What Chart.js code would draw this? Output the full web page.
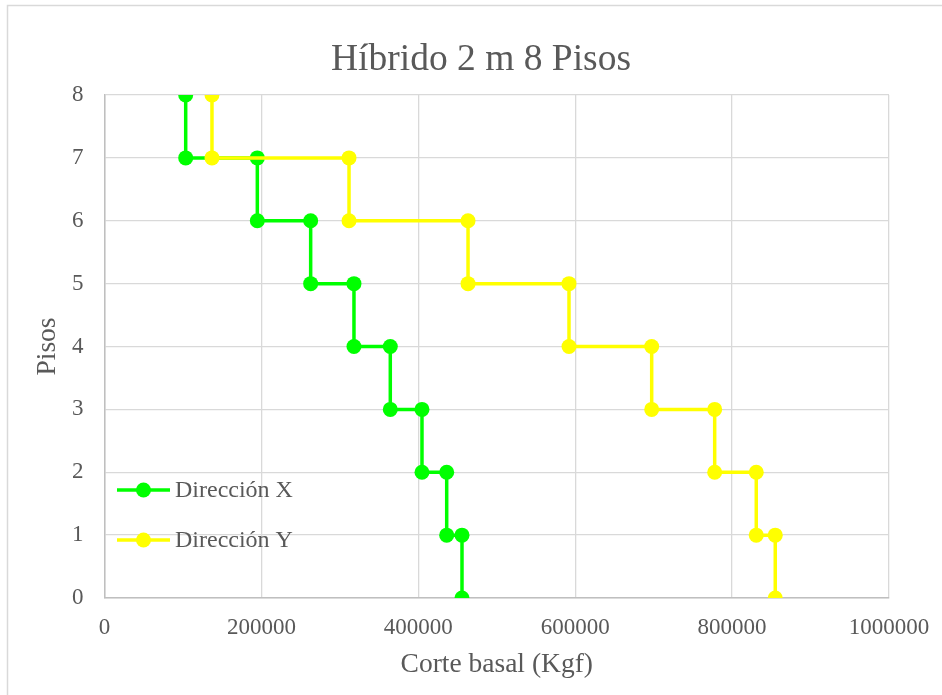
<!DOCTYPE html>
<html>
<head>
<meta charset="utf-8">
<script src="https://cdn.jsdelivr.net/npm/chart.js@4.4.1/dist/chart.umd.min.js"></script>
<style>
  html, body { margin: 0; padding: 0; background: #ffffff; }
  #wrap { width: 942px; height: 695px; position: relative; }
</style>
</head>
<body>
<div id="wrap"><canvas id="c" width="942" height="695"></canvas></div>
<script>
// Data
const chartTitle = "Híbrido 2 m 8 Pisos";
const xAxisTitle = "Corte basal (Kgf)";
const yAxisTitle = "Pisos";
const pisos = [8, 7, 6, 5, 4, 3, 2, 1];
const corteDireccionX = [103500, 194800, 262800, 318000, 364300, 404700, 436200, 455700];
const corteDireccionY = [137000, 311700, 463400, 592100, 697500, 777800, 830800, 855000];
const seriesLabels = ["Dirección X", "Dirección Y"];
const xTicks = [0, 200000, 400000, 600000, 800000, 1000000];
const yTicks = [0, 1, 2, 3, 4, 5, 6, 7, 8];

function stepPoints(values) {
  const pts = [];
  for (let i = 0; i < pisos.length; i++) {
    pts.push({ x: values[i], y: pisos[i] });
    pts.push({ x: values[i], y: pisos[i] - 1 });
  }
  return pts;
}

const TEXT = '#595959';
const FONT = '"Liberation Serif", "Times New Roman", serif';
const GREEN = '#00ff00';
const YELLOW = '#ffff00';

const frameTitleLegend = {
  id: 'frameTitleLegend',
  beforeDraw(chart) {
    const ctx = chart.ctx;
    ctx.save();
    ctx.fillStyle = '#ffffff';
    ctx.fillRect(0, 0, chart.width, chart.height);
    ctx.strokeStyle = '#d9d9d9';
    ctx.lineWidth = 1.5;
    ctx.beginPath();
    ctx.moveTo(7.5, chart.height + 5);
    ctx.lineTo(7.5, 5.5);
    ctx.lineTo(chart.width + 5, 5.5);
    ctx.stroke();
    // chart title
    ctx.fillStyle = TEXT;
    ctx.font = '37.5px ' + FONT;
    ctx.textAlign = 'center';
    ctx.textBaseline = 'alphabetic';
    ctx.fillText(chartTitle, 481, 70);
    ctx.restore();
  },
  afterDatasetsDraw(chart) {
    const ctx = chart.ctx;
    const items = chart.data.datasets;
    const ys = [490, 540];
    ctx.save();
    items.forEach((ds, i) => {
      const y = ys[i];
      ctx.strokeStyle = ds.borderColor;
      ctx.lineWidth = 3.5;
      ctx.beginPath();
      ctx.moveTo(117, y);
      ctx.lineTo(170, y);
      ctx.stroke();
      ctx.fillStyle = ds.pointBackgroundColor;
      ctx.beginPath();
      ctx.arc(143.5, y, 7.5, 0, Math.PI * 2);
      ctx.fill();
      ctx.fillStyle = TEXT;
      ctx.font = '24px ' + FONT;
      ctx.textBaseline = 'middle';
      ctx.textAlign = 'left';
      ctx.fillText(ds.label, 175, y + 1);
    });
    ctx.restore();
  }
};

new Chart(document.getElementById('c'), {
  type: 'scatter',
  data: {
    datasets: [
      {
        label: seriesLabels[0],
        data: stepPoints(corteDireccionX),
        showLine: true,
        borderColor: GREEN,
        backgroundColor: GREEN,
        pointBackgroundColor: GREEN,
        pointBorderColor: GREEN,
        borderWidth: 3.5,
        pointRadius: 7.5,
        pointBorderWidth: 0,
        order: 1
      },
      {
        label: seriesLabels[1],
        data: stepPoints(corteDireccionY),
        showLine: true,
        borderColor: YELLOW,
        backgroundColor: YELLOW,
        pointBackgroundColor: YELLOW,
        pointBorderColor: YELLOW,
        borderWidth: 3.5,
        pointRadius: 7.5,
        pointBorderWidth: 0,
        order: 0
      }
    ]
  },
  options: {
    responsive: false,
    animation: false,
    devicePixelRatio: 1,
    layout: { padding: { left: 0, right: 53, top: 95, bottom: 0 } },
    plugins: {
      legend: { display: false },
      tooltip: { enabled: false },
      title: { display: false }
    },
    scales: {
      x: {
        type: 'linear',
        min: 0,
        max: 1000000,
        afterBuildTicks(scale) { scale.ticks = xTicks.map(v => ({ value: v })); },
        afterFit(scale) { scale.height = 97; scale.paddingLeft = 0; scale.paddingRight = 0; },
        grid: { color: '#d9d9d9', lineWidth: 1.3, drawTicks: false },
        border: { color: '#bfbfbf', width: 1.5 },
        ticks: {
          color: TEXT,
          padding: 16,
          font: { family: FONT, size: 23 },
          callback: v => String(v)
        },
        title: {
          display: true,
          text: xAxisTitle,
          color: TEXT,
          font: { family: FONT, size: 27.5 },
          padding: { top: 0, bottom: 14 }
        }
      },
      y: {
        type: 'linear',
        min: 0,
        max: 8,
        afterBuildTicks(scale) { scale.ticks = yTicks.map(v => ({ value: v })); },
        afterFit(scale) { scale.width = 104.5; },
        grid: { color: '#d9d9d9', lineWidth: 1.3, drawTicks: false },
        border: { color: '#bfbfbf', width: 1.5 },
        ticks: {
          color: TEXT,
          padding: 21,
          font: { family: FONT, size: 23 },
          callback: v => String(v)
        },
        title: {
          display: true,
          text: yAxisTitle,
          color: TEXT,
          font: { family: FONT, size: 27.5 },
          padding: { top: 31, bottom: 0 }
        }
      }
    }
  },
  plugins: [frameTitleLegend]
});
</script>
</body>
</html>
